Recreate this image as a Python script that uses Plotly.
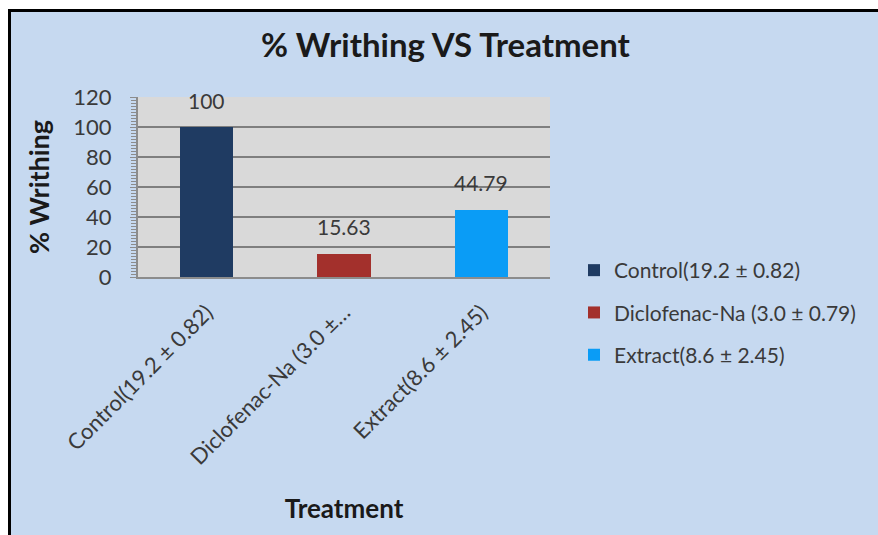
import plotly.graph_objects as go

# Writhing response per treatment group (mean ± SD of writhes in legend/tick text)
treatments = ["Control(19.2 ± 0.82)", "Diclofenac-Na (3.0 ± 0.79)", "Extract(8.6 ± 2.45)"]
tick_labels = ["Control(19.2 ± 0.82)", "Diclofenac-Na (3.0 ±…", "Extract(8.6 ± 2.45)"]
writhing_pct = [100, 15.63, 44.79]
bar_colors = ["#1f3b62", "#a3302c", "#0a9cf6"]

W, H = 878, 535
L, R, T, B = 138, 328, 97, 258
PW, PH = W - L - R, H - T - B

FONT = "Lato"
TXT = "#3a3a3a"
DARK = "#1a1a1a"
BLUE_BG = "#c6d9f0"


def px_x(px):
    return (px - L) / PW


def px_y(py):
    return (H - B - py) / PH


fig = go.Figure()
for name, val, col in zip(treatments, writhing_pct, bar_colors):
    fig.add_bar(
        x=[name], y=[val], name=name, legendgroup=name,
        marker=dict(color=col, line=dict(width=0)), width=0.39,
    )
    # value label above each bar
    fig.add_annotation(
        x=name, y=val, text=f"{val:g}", showarrow=False, yshift=27,
        yanchor="middle", font=dict(family=FONT, size=21, color=TXT),
    )

# chart title
fig.add_annotation(
    xref="paper", yref="paper", x=px_x(446), y=px_y(44),
    text="<b>% Writhing VS Treatment</b>", showarrow=False,
    xanchor="center", yanchor="middle",
    font=dict(family=FONT, size=33, color=DARK),
)

# white margin strips (top and left) outside the framed chart area
for x0, x1, y0, y1 in [(0, W, 0, 9), (0, 8, 0, H)]:
    fig.add_shape(
        type="rect", xref="paper", yref="paper", layer="below",
        x0=px_x(x0), x1=px_x(x1), y0=px_y(y1), y1=px_y(y0),
        fillcolor="white", line=dict(width=0),
    )
# frame lines along the top and left edges
fig.add_shape(type="line", xref="paper", yref="paper", layer="below",
              x0=px_x(8), x1=px_x(W), y0=px_y(10.5), y1=px_y(10.5),
              line=dict(color="black", width=3))
fig.add_shape(type="line", xref="paper", yref="paper", layer="below",
              x0=px_x(9.5), x1=px_x(9.5), y0=px_y(9), y1=px_y(H),
              line=dict(color="black", width=3))

fig.update_layout(
    width=W, height=H,
    margin=dict(l=L, r=R, t=T, b=B, autoexpand=False),
    paper_bgcolor=BLUE_BG, plot_bgcolor="#d9d9d9",
    barmode="overlay", bargap=0,
    font=dict(family=FONT, color=TXT),
    showlegend=True,
    legend=dict(
        x=px_x(574), y=px_y(250), xanchor="left", yanchor="top",
        bgcolor="rgba(0,0,0,0)", font=dict(family=FONT, size=21, color=TXT),
        tracegroupgap=12, itemwidth=30, traceorder="grouped",
    ),
    xaxis=dict(
        type="category", tickmode="array", tickvals=treatments, ticktext=tick_labels,
        tickangle=-45, tickfont=dict(family=FONT, size=22, color=TXT),
        showline=True, linecolor="#8c8c8c", linewidth=2, ticks="",
        ticklabelstandoff=12, showgrid=False,
        title=dict(text="<b>Treatment</b>", font=dict(family=FONT, size=26, color=DARK), standoff=31),
    ),
    yaxis=dict(
        range=[0, 120], dtick=20, tickfont=dict(family=FONT, size=22, color=TXT),
        showgrid=True, gridcolor="#7f7f7f", gridwidth=2, zeroline=False,
        showline=True, linecolor="#8c8c8c", linewidth=2,
        ticks="outside", ticklen=6, tickcolor="#8c8c8c",
        minor=dict(dtick=2, ticks="outside", ticklen=5, tickcolor="#8c8c8c", showgrid=False),
        ticklabelstandoff=14,
        title=dict(text="<b>% Writhing</b>", font=dict(family=FONT, size=27, color=DARK), standoff=16),
    ),
)

fig.write_html("out.html")
